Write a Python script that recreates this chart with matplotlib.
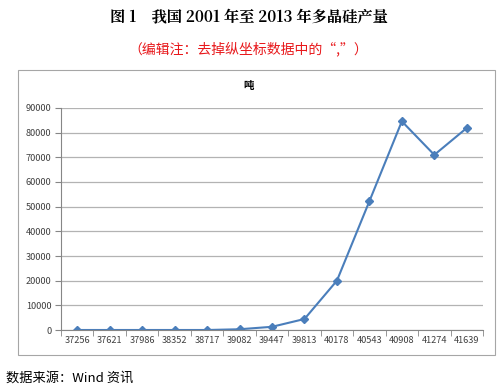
import numpy as np
import matplotlib.pyplot as plt
from matplotlib.patches import Rectangle

plt.rcParams['font.family'] = ['Noto Sans CJK SC', 'DejaVu Sans']

# x categories as shown (Excel date serials) and output in tonnes
dates = ['37256', '37621', '37986', '38352', '38717', '39082', '39447',
         '39813', '40178', '40543', '40908', '41274', '41639']
output = [0, 0, 0, 0, 0, 300, 1300, 4460, 20000, 52200, 84600, 71000, 81900]
yticks = np.arange(0, 90001, 10000)

fig = plt.figure(figsize=(4.97, 3.88), dpi=100)

# outer chart frame
fig.patches.append(Rectangle((18 / 497, 1 - 355 / 388), 477 / 497, 285 / 388,
                             transform=fig.transFigure, fill=False,
                             edgecolor='#a6a6a6', linewidth=0.8))

ax = fig.add_axes([61 / 497, 1 - 330 / 388, 422 / 497, 222 / 388])
x = np.arange(len(dates))
ax.plot(x, output, color='#4a7ebb', linewidth=1.5, marker='D',
        markersize=4.5, markerfacecolor='#4a7ebb', markeredgecolor='#4a7ebb')

ax.set_xlim(-0.5, len(dates) - 0.5)
ax.set_ylim(0, 90000)
ax.set_yticks(yticks)
ax.set_yticklabels([str(v) for v in yticks])
ax.set_xticks(x)
ax.set_xticklabels(dates)
ax.set_xticks(np.arange(-0.5, len(dates), 1), minor=True)
ax.tick_params(axis='x', which='major', length=0, labelsize=6.6,
               pad=4, colors='#404040')
ax.tick_params(axis='x', which='minor', length=4, color='#868686')
ax.tick_params(axis='y', length=4, color='#868686', labelsize=6.6,
               colors='#404040', pad=3)
ax.grid(axis='y', color='#b3b3b3', linewidth=0.9)
ax.set_axisbelow(True)
for side in ['top', 'right']:
    ax.spines[side].set_visible(False)
ax.spines['left'].set_color('#868686')
ax.spines['bottom'].set_color('#868686')

fig.text(0.5, 1 - 18 / 388, '图 1　我国 2001 年至 2013 年多晶硅产量',
         ha='center', va='center', fontsize=11, fontweight='bold',
         family=['Noto Serif CJK SC', 'Noto Sans CJK SC', 'DejaVu Serif'])
fig.text(0.5, 1 - 49 / 388, '（编辑注：去掉纵坐标数据中的“,”）',
         ha='center', va='center', fontsize=10, color='#e8181b')
fig.text(0.5, 1 - 86 / 388, '吨', ha='center', va='center',
         fontsize=7.5, fontweight='bold')
fig.text(6 / 497, 1 - 378 / 388, '数据来源：Wind 资讯', ha='left',
         va='center', fontsize=9.5)

plt.savefig('out.png', dpi=100)
